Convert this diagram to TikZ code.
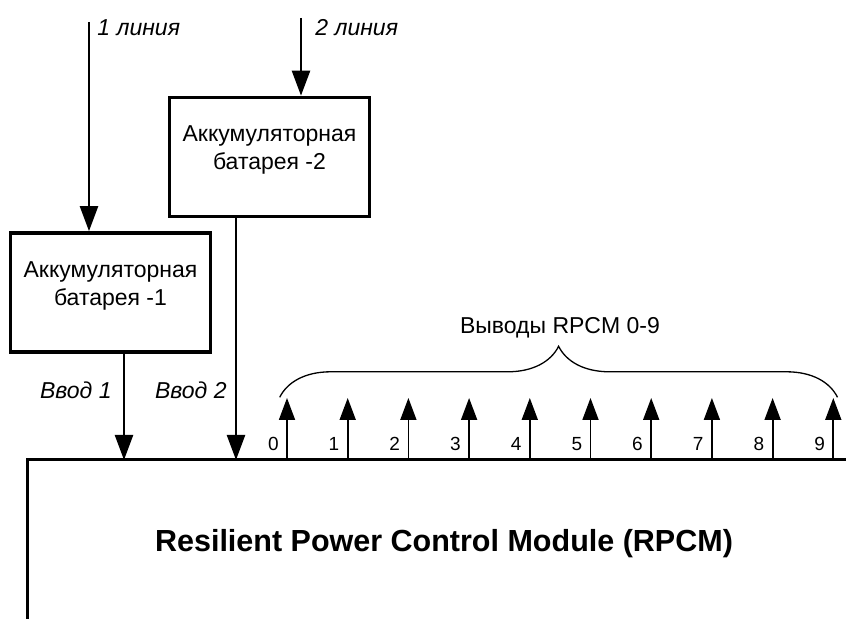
\documentclass[tikz,border=0pt]{standalone}
\usepackage{fontspec}
\setmainfont{Liberation Sans}
\usetikzlibrary{arrows.meta,decorations.pathreplacing}

\begin{document}
\begin{tikzpicture}[x=0.5pt,y=0.5pt,
    bat/.style={draw, line width=1.8pt, minimum width=100pt, minimum height=59.5pt, inner sep=0pt},
    battext/.style={align=center, font=\fontsize{11.5}{14}\selectfont, inner sep=0pt},
    lbl/.style={font=\fontsize{11.5}{14}\selectfont\itshape, inner sep=0pt},
    feed/.style={line width=1.2pt, -{Triangle[length=12.5pt,width=9pt]}},
    outarrow/.style={line width=0.9pt, -{Triangle[length=11pt,width=8pt]}},
    num/.style={font=\fontsize{9.5}{11}\selectfont, inner sep=0pt}]
    \useasboundingbox (0,0) rectangle (846,619);

    % Batteries
    \node[bat] (bat1) at (110.5,326.5) {};
    \node[battext] (bat1text) at ([yshift=3.5pt]bat1.center) {Аккумуляторная\\батарея -1};
    \node[bat] (bat2) at (269.5,462) {};
    \node[battext] (bat2text) at ([yshift=3.5pt]bat2.center) {Аккумуляторная\\батарея -2};

    % Module
    \coordinate (mcorner) at (27,159);
    \draw[line width=1.5pt] (846,159) -- (mcorner) -- (27,0);
    \node[font=\fontsize{15.25}{18}\selectfont\bfseries] (rpcm) at (444,75) {Resilient Power Control Module (RPCM)};

    % Input lines
    \coordinate (line1) at (89,597);
    \coordinate (line2) at (301,601);
    \draw[feed] (line1) -- (line1 |- bat1.north);
    \draw[feed] (line2) -- (line2 |- bat2.north);
    \node[lbl, anchor=west] (l1) at (97,591) {1 линия};
    \node[lbl, anchor=west] (l2) at (315,591) {2 линия};

    % Inputs to module
    \coordinate (in1) at (124,159);
    \coordinate (in2) at (236,159);
    \draw[feed] (in1 |- bat1.south) -- (in1);
    \draw[feed] (in2 |- bat2.south) -- (in2);
    \node[lbl, anchor=east] (vvod1) at (112,229) {Ввод 1};
    \node[lbl, anchor=east] (vvod2) at (227,229) {Ввод 2};

    % Outputs 0-9
    \foreach \i in {0,...,9} {
        \coordinate (out\i) at ({287+60.7*\i},159);
        \coordinate (tip\i) at ({287+60.7*\i},221);
        \draw[outarrow] (out\i) -- (tip\i);
        \node[num, anchor=base east] (n\i) at ([xshift=-4pt,yshift=4.5pt]out\i) {\i};
    }

    % Brace over outputs
    \coordinate (bl) at (279.7,221.7);
    \coordinate (br) at (837.5,221.7);
    \draw[line width=0.65pt, decorate, decoration={brace, amplitude=25.5pt}] (bl) -- (br);
    \node[font=\fontsize{11.5}{14}\selectfont] (outs) at (560,291) {Выводы RPCM 0-9};
\end{tikzpicture}
\end{document}
